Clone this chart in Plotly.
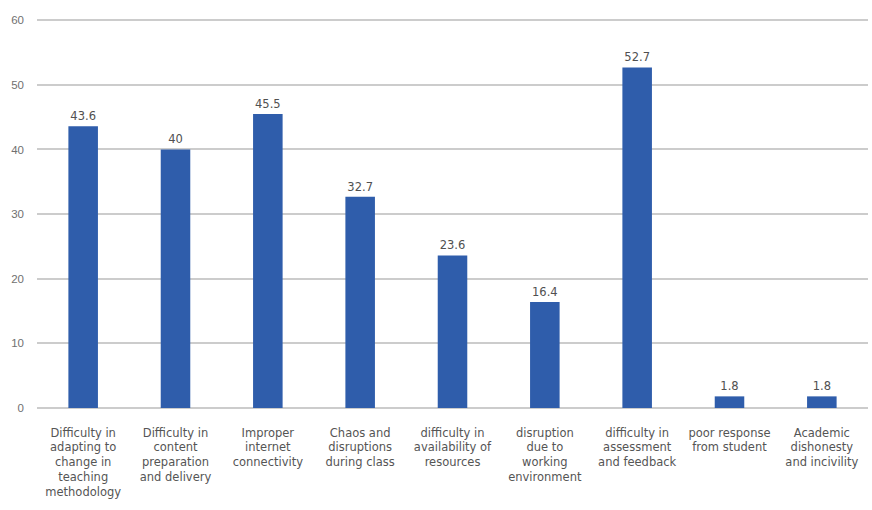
import plotly.graph_objects as go

# Challenges reported by teachers (percent of respondents)
categories = [
    "Difficulty in<br>adapting to<br>change in<br>teaching<br>methodology",
    "Difficulty in<br>content<br>preparation<br>and delivery",
    "Improper<br>internet<br>connectivity",
    "Chaos and<br>disruptions<br>during class",
    "difficulty in<br>availability of<br>resources",
    "disruption<br>due to<br>working<br>environment",
    "difficulty in<br>assessment<br>and feedback",
    "poor response<br>from student",
    "Academic<br>dishonesty<br>and incivility",
]
values = [43.6, 40, 45.5, 32.7, 23.6, 16.4, 52.7, 1.8, 1.8]
value_labels = ["43.6", "40", "45.5", "32.7", "23.6", "16.4", "52.7", "1.8", "1.8"]
y_ticks = [0, 10, 20, 30, 40, 50, 60]

label_font = "DejaVu Sans, Verdana, sans-serif"

fig = go.Figure(
    go.Bar(
        x=list(range(len(categories))),
        y=values,
        marker=dict(color="#2F5DAB", line=dict(width=0)),
        text=value_labels,
        textposition="outside",
        textfont=dict(size=11.5, color="#505050", family=label_font),
        cliponaxis=False,
        width=0.32,
    )
)

fig.update_layout(
    width=872,
    height=510,
    margin=dict(l=37, r=4, t=17, b=102),
    paper_bgcolor="white",
    plot_bgcolor="white",
    showlegend=False,
    font=dict(family=label_font, size=11.5, color="#555555"),
    xaxis=dict(
        tickmode="array",
        tickvals=list(range(len(categories))),
        ticktext=categories,
        range=[-0.5, len(categories) - 0.5],
        showgrid=False,
        showline=False,
        zeroline=False,
        ticks="",
        tickangle=0,
        ticklabelstandoff=16,
        tickfont=dict(size=11.5, color="#555555", family=label_font),
    ),
    yaxis=dict(
        range=[0, 60.5],
        tickvals=y_ticks,
        showgrid=True,
        gridcolor="#CCCCCC",
        gridwidth=2,
        zeroline=True,
        zerolinecolor="#CCCCCC",
        zerolinewidth=2,
        showline=False,
        ticks="",
        ticklabelstandoff=12,
        tickfont=dict(size=11.5, color="#707070", family="Liberation Sans, Arial, sans-serif"),
    ),
)

fig.write_html("out.html")
